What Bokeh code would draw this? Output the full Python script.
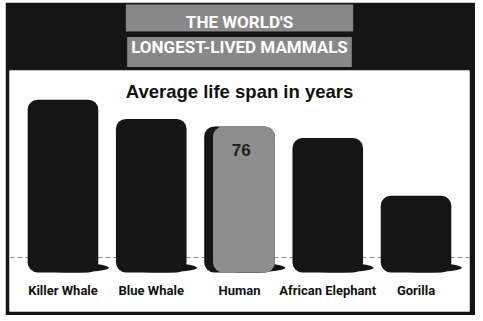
from bokeh.plotting import figure
from bokeh.models import ColumnDataSource, Label, Span, FactorRange, Title
from bokeh.transform import dodge
from bokeh.core.properties import value
from bokeh.embed import file_html
from bokeh.resources import INLINE

# ---- data ----
animals = ["Killer Whale", "Blue Whale", "Human", "African Elephant", "Gorilla"]
lifespans = [90, 80, 76, 70, 40]
highlight = ["Human"]
header_lines = ["THE WORLD'S", "LONGEST-LIVED MAMMALS"]
subtitle = "Average life span in years"

NARROW = "Roboto"
DARK = "#151515"
GRAY = "#8e8e8e"
PLATE = "#888888"

src = ColumnDataSource(dict(x=animals, top=lifespans))
hl = [i for i, a in enumerate(animals) if a in highlight]
hl_src = ColumnDataSource(dict(
    x=[animals[i] for i in hl],
    top=[lifespans[i] for i in hl],
    val_y=[lifespans[i] - 12 for i in hl],
    txt=[str(lifespans[i]) for i in hl],
))

p = figure(
    x_range=FactorRange(factors=animals, range_padding=0.0424),
    y_range=(-20.3, 105.2),
    width=470, height=313,
    output_backend="svg", toolbar_location=None,
    x_axis_location=None, y_axis_location=None,
    min_border_left=4, min_border_right=6, min_border_top=68, min_border_bottom=4,
    border_fill_color=DARK, background_fill_color="white",
    outline_line_color=None,
)
p.margin = (2, 0, 0, 5)
p.grid.visible = False

# header: two centred lines on a gray plate (line 2 added first: closest to plot)
p.add_layout(Title(text=header_lines[1], align="center", text_color="white",
                   text_font=NARROW, text_font_size="17px", text_font_style="bold",
                   background_fill_color=PLATE, padding=(4, 4, 0, 10), standoff=7),
             "above")
p.add_layout(Title(text=header_lines[0], align="center", text_color="white",
                   text_font=NARROW, text_font_size="17px", text_font_style="bold",
                   background_fill_color=PLATE, padding=(60, 60, 7, 0), standoff=0),
             "above")

# ground line
p.add_layout(Span(location=7.8, dimension="width", line_color="#8a8a8a",
                  line_dash="5 3", line_width=1, level="underlay"))

# bar shadows
p.ellipse(x=dodge("x", 0.1, range=p.x_range), y=2.5, width=0.84, height=5,
          source=src, fill_color=DARK, line_color=None)

# bars
p.vbar(x="x", top="top", bottom=0, width=0.8, source=src,
       fill_color=DARK, line_color=None, border_radius=10)
p.vbar(x=dodge("x", 0.05, range=p.x_range), top="top", bottom=0, width=0.7,
       source=hl_src, fill_color=GRAY, line_color=None, border_radius=10)

# value label
p.text(x=dodge("x", 0.02, range=p.x_range), y="val_y", text="txt", source=hl_src,
       text_align="center", text_baseline="middle", text_color="#222222",
       text_font=value("Liberation Sans"), text_font_style="bold",
       text_font_size="17px")

# category labels
p.text(x="x", y=-9.4, text="x", source=src, text_align="center",
       text_baseline="middle", text_color="#111111", text_font=value(NARROW),
       text_font_style="bold", text_font_size="13px")

p.add_layout(Label(x=2.5, y=94.5, text=subtitle, text_align="center",
                   text_baseline="middle", text_font="Liberation Sans",
                   text_font_style="bold", text_font_size="18.5px",
                   text_color="#111111"))

open("out.html", "w").write(file_html(p, INLINE))
